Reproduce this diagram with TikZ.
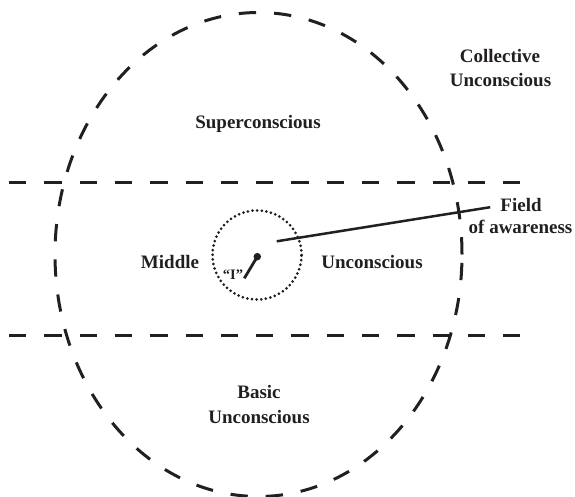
\documentclass[tikz,border=0pt]{standalone}
\usepackage{fontspec}
\setmainfont{Liberation Serif}
\usetikzlibrary{shapes.geometric}
\definecolor{ink}{HTML}{231F20}
\tikzset{
  lbl/.style={anchor=base, inner sep=0pt, text=ink, font=\bfseries\fontsize{19}{24}\selectfont},
  smalllbl/.style={anchor=base, inner sep=0pt, text=ink, font=\bfseries\fontsize{14.5}{17}\selectfont},
  bigdash/.style={draw=ink, line width=3pt, dash pattern=on 17.3pt off 18pt},
  dotline/.style={draw=ink, line width=3pt, line cap=round, dash pattern=on 0pt off 4.65pt},
  solidline/.style={draw=ink, line width=2.5pt}
}
\begin{document}
\begin{tikzpicture}[x=1pt,y=-1pt]
\useasboundingbox (0,0) rectangle (575,497);
% outer ellipse
\node[ellipse, bigdash, inner sep=0pt, minimum width=407pt, minimum height=484pt] (outer) at (258.5,254.5) {};
% horizontal dashed lines
\coordinate (tl) at (9,183);
\coordinate (tr) at (520,183);
\coordinate (bl) at (9,335);
\coordinate (br) at (520,335);
\draw[bigdash] (tl) -- (tr);
\draw[bigdash] (bl) -- (br);
% dotted field circle
\node[circle, dotline, inner sep=0pt, minimum size=89pt] (field circ) at (257,255) {};
% the "I" point
\node[circle, fill=ink, inner sep=0pt, minimum size=7.5pt] (ego) at (257.3,256.7) {};
\coordinate (egotail) at (244.3,278.3);
\draw[solidline, line width=2.8pt] (ego.center) -- (egotail);
\node[smalllbl] (ilabel) at (233,279) {``I''};
% labels
\node[lbl] (coll1) at (500,62.7) {Collective};
\node[lbl] (coll2) at (500.5,86.7) {Unconscious};
\node[lbl] (super) at (258,129) {Superconscious};
\node[lbl] (middle) at (170,268) {Middle};
\node[lbl] (munc) at (372,268) {Unconscious};
\node[lbl] (basic1) at (259,398) {Basic};
\node[lbl] (basic2) at (259,423) {Unconscious};
\node[lbl, inner xsep=10pt] (field) at (521,211.7) {Field};
\node[lbl] (aware) at (520.5,233) {of awareness};
% field of awareness pointer
\coordinate (fstart) at (276.7,241.3);
\draw[solidline] (fstart) -- ([yshift=-2pt]field.west);
\end{tikzpicture}
\end{document}
